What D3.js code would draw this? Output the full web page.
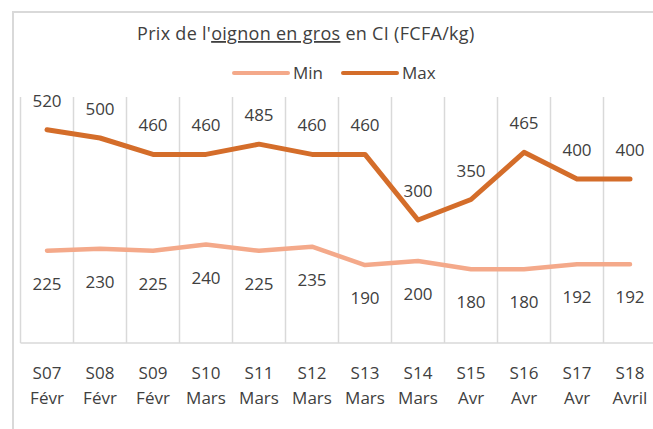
<!DOCTYPE html>
<html><head><meta charset="utf-8">
<script src="https://cdn.jsdelivr.net/npm/d3@7"></script>
<style>body{margin:0;background:#fff}svg{display:block}text{font-family:"Open Sans",sans-serif;fill:#404040}</style>
</head><body><svg id="c" width="653" height="429"></svg>
<script>
const weeks = ["S07","S08","S09","S10","S11","S12","S13","S14","S15","S16","S17","S18"];
const months = ["Févr","Févr","Févr","Mars","Mars","Mars","Mars","Mars","Avr","Avr","Avr","Avril"];
const minVals = [225,230,225,240,225,235,190,200,180,180,192,192];
const maxVals = [520,500,460,460,485,460,460,300,350,465,400,400];
const seriesNames = ["Min","Max"];
const colors = {Min:"#F4A98A", Max:"#D46D2A"};

const svg = d3.select("#c");
svg.append("rect").attr("x",13).attr("y",12).attr("width",700).attr("height",440)
  .attr("fill","none").attr("stroke","#D9D9D9").attr("stroke-width",2);

const x = d3.scaleBand().domain(weeks).range([20.5, 20.5 + 53*weeks.length]);
const y = d3.scaleLinear().domain([0,600]).range([343, 97]);

// vertical gridlines at category boundaries
const g = svg.append("g");
g.selectAll("line.grid").data(weeks).join("line")
  .attr("x1", d=>x(d)).attr("x2", d=>x(d)).attr("y1", y(600)).attr("y2", y(0))
  .attr("stroke","#D9D9D9").attr("stroke-width",1.5);
g.append("line").attr("x1", x.range()[0]).attr("x2", x.range()[1]).attr("y1", y(0)).attr("y2", y(0))
  .attr("stroke","#D9D9D9").attr("stroke-width",1.5);

// category labels
const xa = svg.append("g");
weeks.forEach((w,i)=>{
  const cx = x(w) + x.bandwidth()/2;
  xa.append("text").attr("x",cx).attr("y",379).attr("text-anchor","middle").attr("font-size",17).attr("fill","#595959").text(w);
  xa.append("text").attr("x",cx).attr("y",404).attr("text-anchor","middle").attr("font-size",17).attr("fill","#595959").text(months[i]);
});

const line = d3.line().x((d,i)=>x(weeks[i]) + x.bandwidth()/2).y(d=>y(d));
svg.append("path").datum(minVals).attr("d",line).attr("fill","none").attr("stroke",colors.Min)
  .attr("stroke-width",4.5).attr("stroke-linejoin","round").attr("stroke-linecap","round");
svg.append("path").datum(maxVals).attr("d",line).attr("fill","none").attr("stroke",colors.Max)
  .attr("stroke-width",5).attr("stroke-linejoin","round").attr("stroke-linecap","round");

// data labels
svg.append("g").selectAll("text").data(maxVals).join("text")
  .attr("x",(d,i)=>x(weeks[i]) + x.bandwidth()/2).attr("y",d=>y(d)-23)
  .attr("text-anchor","middle").attr("font-size",17).text(d=>d);
svg.append("g").selectAll("text").data(minVals).join("text")
  .attr("x",(d,i)=>x(weeks[i]) + x.bandwidth()/2).attr("y",d=>y(d)+39)
  .attr("text-anchor","middle").attr("font-size",17).text(d=>d);

// title
const t = svg.append("text").attr("x",137).attr("y",40).attr("font-size",18)
  .attr("letter-spacing",0.3).attr("fill","#595959");
t.append("tspan").text("Prix de l'");
t.append("tspan").attr("text-decoration","underline").text("oignon en gros");
t.append("tspan").text(" en CI (FCFA/kg)");

// legend
const leg = svg.append("g");
const legX = [234, 343];
seriesNames.forEach((n,i)=>{
  leg.append("line").attr("x1",legX[i]).attr("x2",legX[i]+54).attr("y1",73).attr("y2",73)
    .attr("stroke",colors[n]).attr("stroke-width",4).attr("stroke-linecap","round");
  leg.append("text").attr("x",legX[i]+59).attr("y",79).attr("font-size",17).attr("fill","#595959").text(n);
});
</script></body></html>
